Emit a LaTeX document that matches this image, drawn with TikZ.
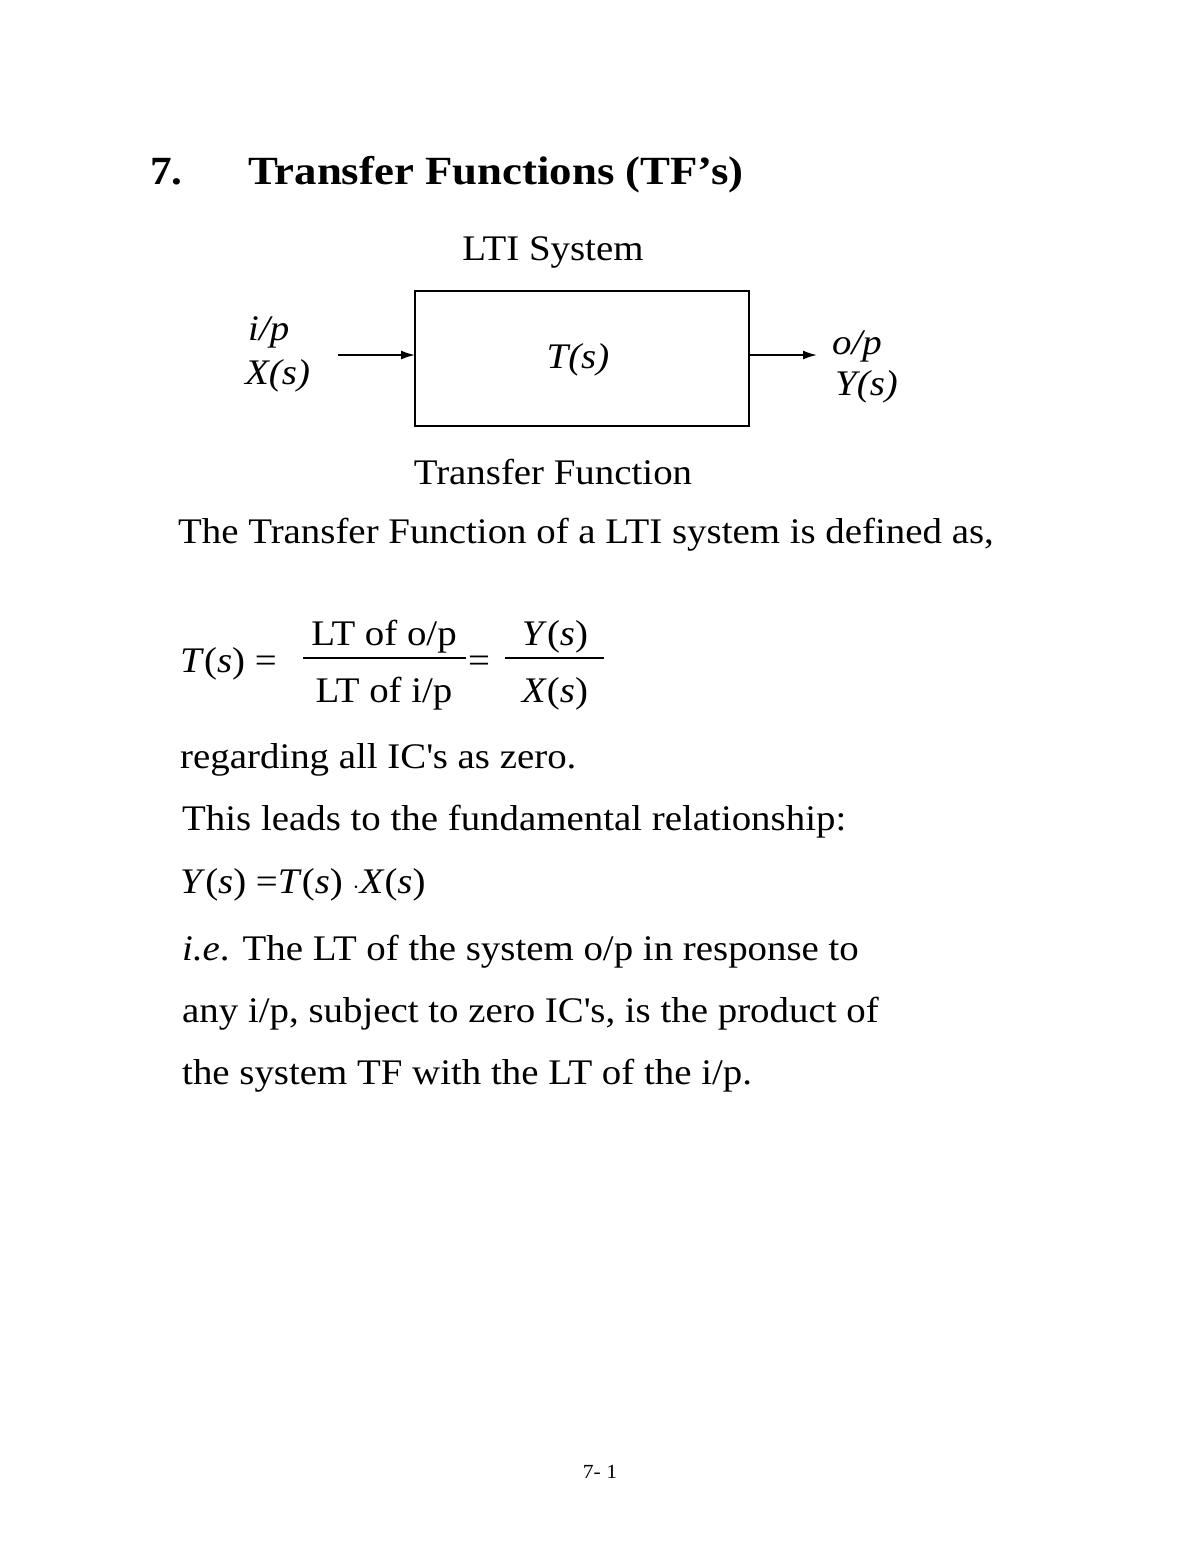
\documentclass[tikz,border=0pt]{standalone}
\usepackage{fontspec}
\usetikzlibrary{arrows.meta}
\setmainfont[FakeStretch=1.08]{Liberation Serif}
\begin{document}
\begin{tikzpicture}[x=1pt,y=-1pt,
  txt/.style={anchor=base west,inner sep=0pt,font=\fontsize{36}{40}\selectfont},
  ctr/.style={anchor=base,inner sep=0pt,font=\fontsize{36}{40}\selectfont},
  arr/.style={-{Latex[length=14pt,width=9pt]},line width=1.6pt}]
\useasboundingbox (0,0) rectangle (1200,1553);
\fill[white] (0,0) rectangle (1200,1553);
\node[txt,font=\fontsize{40}{44}\selectfont\bfseries] (n7) at (150,184) {7.};
\node[txt,font=\fontsize{40}{44}\selectfont\bfseries\addfontfeature{FakeStretch=1.12}] (title) at (248,184) {Transfer Functions (TF’s)};
\node[ctr] (lti) at (553,260) {LTI System};
\draw[line width=1.6pt] (415,291) rectangle (749,426);
\node[ctr] (box) at (578,368) {\itshape T(s)};
\coordinate (boxl) at (415,355);
\coordinate (boxr) at (749,355);
\node[txt] (ip) at (248,340) {\itshape i/p};
\node[txt] (xs) at (245,384) {\itshape X(s)};
\coordinate (ina) at (338,355);
\coordinate (outb) at (817,355);
\draw[arr] (ina) -- (boxl);
\draw[arr] (boxr) -- (outb);
\node[txt] (op) at (832,354) {\itshape o/p};
\node[txt] (ys) at (835,395) {\itshape Y(s)};
\node[ctr] (tf) at (553,484) {Transfer Function};
\node[txt] (l1) at (178,543) {The Transfer Function of a LTI system is defined as,};
\node[txt] (eq1) at (180,672) {\itshape T\/\upshape(\itshape s\upshape) =};
\node[ctr] (num1) at (384,645) {LT of o/p};
\node[ctr] (den1) at (384,702) {LT of i/p};
\draw[line width=1.3pt] (303,658) -- (466,658);
\node[txt] (eq2) at (468,672) {=};
\node[ctr] (num2) at (555,645) {\itshape Y\/\upshape(\itshape s\upshape)};
\node[ctr] (den2) at (555,702) {\itshape X\/\upshape(\itshape s\upshape)};
\draw[line width=1.3pt] (505,658) -- (604,658);
\node[txt] (l2) at (180,768) {regarding all IC\textquotesingle s as zero.};
\node[txt] (l3) at (182,830) {This leads to the fundamental relationship:};
\node[txt] (l4) at (180,893) {\itshape Y\/\upshape(\itshape s\upshape) =\itshape T\/\upshape(\itshape s\upshape) $\cdot$\itshape X\/\upshape(\itshape s\upshape)};
\node[txt] (l5) at (182,960) {\itshape i.e\upshape. The LT of the system o/p in response to};
\node[txt] (l6) at (182,1022) {any i/p, subject to zero IC\textquotesingle s, is the product of};
\node[txt] (l7) at (182,1084) {the system TF with the LT of the i/p.};
\node[ctr,font=\fontsize{20}{24}\selectfont] (pg) at (600,1478) {7- 1};
\end{tikzpicture}
\end{document}
